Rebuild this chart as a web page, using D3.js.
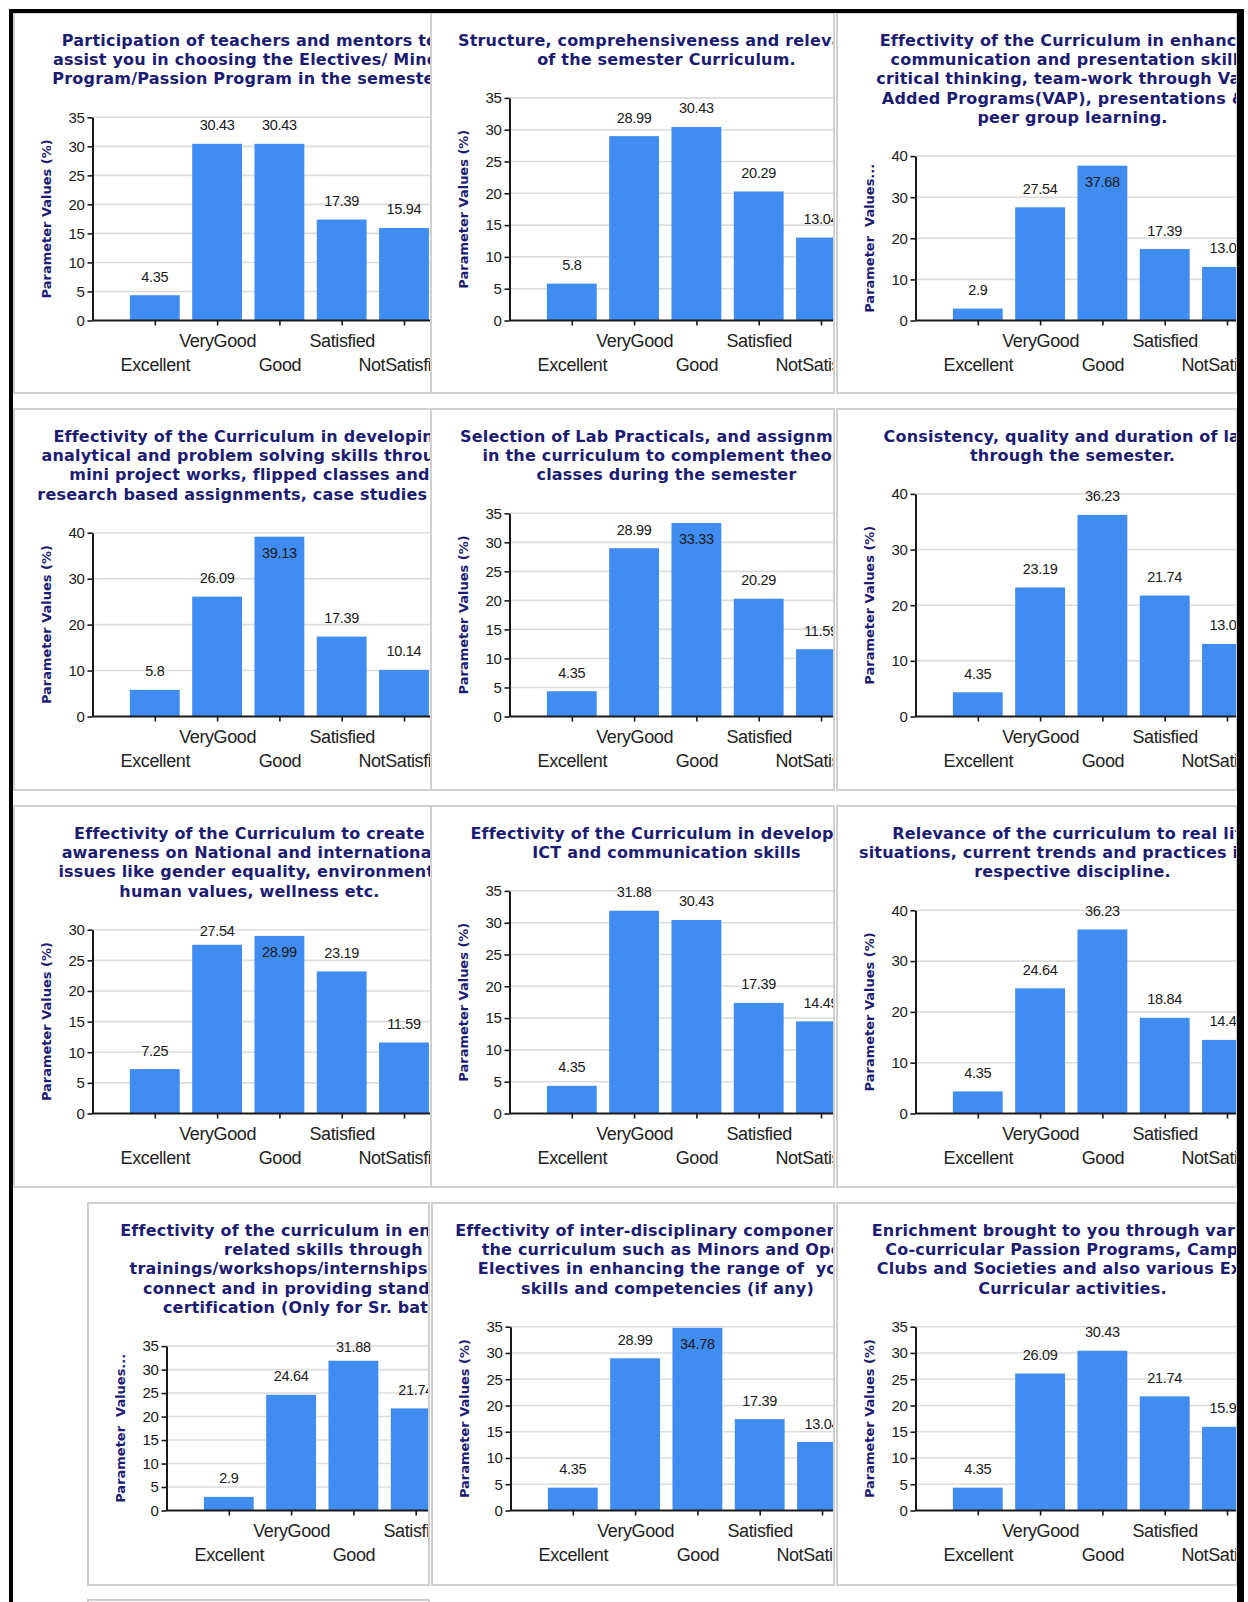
<!DOCTYPE html>
<html><head><meta charset="utf-8">
<script src="https://cdn.jsdelivr.net/npm/d3@7"></script>
<style>
body{margin:0;background:#fff;}
svg{display:block;}
text{white-space:pre;}
</style>
</head><body>
<svg id="c" width="1248" height="1602"></svg>
<script>
// ---------------- data ----------------
const categories = ["Excellent", "VeryGood", "Good", "Satisfied", "NotSatisfied"];

const titles = [
  ["Participation of teachers and mentors to", "assist you in choosing the Electives/ Minor", "Program/Passion Program in the semester."],
  ["Structure, comprehensiveness and relevance", "of the semester Curriculum."],
  ["Effectivity of the Curriculum in enhancing", "communication and presentation skills,", "critical thinking, team-work through Value", "Added Programs(VAP), presentations &   ", "peer group learning."],
  ["Effectivity of the Curriculum in developing", "analytical and problem solving skills through", "mini project works, flipped classes and", "research based assignments, case studies etc"],
  ["Selection of Lab Practicals, and assignments", "in the curriculum to complement theory", "classes during the semester"],
  ["Consistency, quality and duration of labs", "through the semester."],
  ["Effectivity of the Curriculum to create", "awareness on National and international", "issues like gender equality, environment,", "human values, wellness etc."],
  ["Effectivity of the Curriculum in developing", "ICT and communication skills"],
  ["Relevance of the curriculum to real life", "situations, current trends and practices in the", "respective discipline."],
  ["Effectivity of the curriculum in enhancing IT", "related skills through", "trainings/workshops/internships/industry-", "connect and in providing standard skill", "certification (Only for Sr. batches)."],
  ["Effectivity of inter-disciplinary components of", "the curriculum such as Minors and Open", "Electives in enhancing the range of  your", "skills and competencies (if any)"],
  ["Enrichment brought to you through various", "Co-curricular Passion Programs, Campus", "Clubs and Societies and also various Extra", "Curricular activities."]
];

const values = [
  [4.35, 30.43, 30.43, 17.39, 15.94],
  [5.8, 28.99, 30.43, 20.29, 13.04],
  [2.9, 27.54, 37.68, 17.39, 13.04],
  [5.8, 26.09, 39.13, 17.39, 10.14],
  [4.35, 28.99, 33.33, 20.29, 11.59],
  [4.35, 23.19, 36.23, 21.74, 13.04],
  [7.25, 27.54, 28.99, 23.19, 11.59],
  [4.35, 31.88, 30.43, 17.39, 14.49],
  [4.35, 24.64, 36.23, 18.84, 14.49],
  [2.9, 24.64, 31.88, 21.74, 17.39],
  [4.35, 28.99, 34.78, 17.39, 13.04],
  [4.35, 26.09, 30.43, 21.74, 15.94]
];

const yMaxes = [35, 35, 40, 40, 35, 40, 30, 35, 40, 35, 35, 35];
const yTickSteps = [5, 5, 10, 10, 5, 10, 5, 5, 10, 5, 5, 5];
const yTitleFull = "Parameter Values (%)";
const yTitleShort = "Parameter  Values...";

// ---------------- layout ----------------
const svg = d3.select("#c");
const rowTops = [13, 409, 806, 1203];
const rowHeights = [380, 381, 381, 382];
const colsStd = [{x: 14, w: 417}, {x: 431, w: 403}, {x: 837, w: 400}];
const colsLast = [{x: 88, w: 341}, {x: 432, w: 402}, {x: 837, w: 400}];

const AXIS_X = 78.5, PLOT_BOTTOM = 307.5, BASE1 = 32.5, LH = 19.4, STEP = 62.3;
const TITLE_CX = 235.5;

const defs = svg.append("defs");

titles.forEach((tl, i) => {
  const r = Math.floor(i / 3), c = i % 3;
  const col = (r === 3 ? colsLast : colsStd)[c];
  const px = col.x, py = rowTops[r], pw = col.w, ph = rowHeights[r];

  defs.append("clipPath").attr("id", "clip" + i)
    .append("rect").attr("x", 0).attr("y", 0).attr("width", pw - 1).attr("height", ph);

  const panel = svg.append("g").attr("transform", `translate(${px},${py})`);
  const g = panel.append("g").attr("clip-path", `url(#clip${i})`);

  // title
  const t = g.append("text")
    .attr("font-family", "DejaVu Sans").attr("font-weight", "bold")
    .attr("font-size", 16).attr("letter-spacing", 0.2)
    .attr("fill", "#1c1c72").attr("text-anchor", "middle");
  tl.forEach((line, k) => {
    t.append("tspan").attr("x", TITLE_CX).attr("y", BASE1 + k * LH).text(line);
  });

  const plotTop = BASE1 + (tl.length - 1) * LH + 33;
  const x = d3.scalePoint().domain(categories)
    .range([AXIS_X, AXIS_X + 6 * STEP]).padding(1);
  const y = d3.scaleLinear().domain([0, yMaxes[i]]).range([PLOT_BOTTOM, plotTop]);
  const ticks = d3.range(0, yMaxes[i] + 0.001, yTickSteps[i]);
  const bw = STEP * 0.8;

  // only the categories that reach into the visible panel area
  const rows = values[i].map((v, k) => ({cat: categories[k], v}))
    .filter(d => x(d.cat) - bw / 2 < pw - 1);

  // gridlines
  g.append("g").selectAll("line").data(ticks.filter(v => v > 0)).join("line")
    .attr("x1", AXIS_X).attr("x2", pw)
    .attr("y1", d => y(d)).attr("y2", d => y(d))
    .attr("stroke", "#dcdcdc").attr("stroke-width", 1.6);

  // bars
  g.append("g").selectAll("rect").data(rows).join("rect")
    .attr("x", d => x(d.cat) - bw / 2)
    .attr("width", bw)
    .attr("y", d => y(d.v))
    .attr("height", d => PLOT_BOTTOM - y(d.v))
    .attr("fill", "#418cf0");

  // value labels
  g.append("g").selectAll("text").data(rows).join("text")
    .attr("x", d => x(d.cat))
    .attr("y", d => {
      const top = y(d.v);
      if (top - plotTop < 11.5) return top + 21.5;
      return Math.max(top - 13.5, plotTop + 6);
    })
    .attr("text-anchor", "middle")
    .attr("font-family", "Liberation Sans").attr("font-size", 14.5)
    .attr("letter-spacing", -0.3)
    .attr("fill", "#1a1a1a")
    .text(d => d.v);

  // y axis
  const ya = g.append("g").attr("transform", `translate(${AXIS_X},0)`)
    .call(d3.axisLeft(y).tickValues(ticks).tickSize(5).tickSizeOuter(0).tickPadding(3).tickFormat(d3.format("d")));
  ya.select(".domain").attr("stroke", "#1a1a1a").attr("stroke-width", 2);
  ya.selectAll(".tick line").attr("stroke", "#1a1a1a").attr("stroke-width", 1.6);
  ya.selectAll(".tick text").attr("font-family", "Liberation Sans").attr("font-size", 15)
    .attr("letter-spacing", -0.3).attr("fill", "#1a1a1a");

  // x axis (domain line drawn to the panel edge, ticks only for visible categories)
  const visCats = categories.filter(cName => x(cName) - 30 < pw - 1);
  const xa = g.append("g").attr("transform", `translate(0,${PLOT_BOTTOM})`)
    .call(d3.axisBottom(x).tickValues(visCats).tickSize(5).tickSizeOuter(0));
  xa.select(".domain").attr("d", `M${AXIS_X},0H${pw}`)
    .attr("stroke", "#1a1a1a").attr("stroke-width", 2);
  xa.selectAll(".tick line").attr("stroke", "#1a1a1a").attr("stroke-width", 1.6);
  xa.selectAll(".tick text")
    .attr("y", d => (categories.indexOf(d) % 2 === 1 ? 26 : 50)).attr("dy", 0)
    .attr("font-family", "Liberation Sans").attr("font-size", 18)
    .attr("letter-spacing", -0.4).attr("fill", "#222");

  // y axis title
  const plotH = PLOT_BOTTOM - plotTop;
  const yt = plotH >= 170 ? yTitleFull : yTitleShort;
  g.append("text")
    .attr("transform", `translate(32,${(plotTop + PLOT_BOTTOM) / 2}) rotate(-90)`)
    .attr("dy", "0.36em")
    .attr("text-anchor", "middle")
    .attr("font-family", "DejaVu Sans").attr("font-weight", "bold").attr("font-size", 13)
    .attr("fill", "#1c1c72")
    .attr("textLength", plotH >= 170 ? 159 : 149).attr("lengthAdjust", "spacing")
    .text(yt);

  // panel border
  panel.append("rect").attr("x", 0).attr("y", 0).attr("width", pw).attr("height", ph)
    .attr("fill", "none").attr("stroke", "#d0d0d0").attr("stroke-width", 2);
});

// partially visible next panel
svg.append("rect").attr("x", 88).attr("y", 1600).attr("width", 341).attr("height", 60)
  .attr("fill", "none").attr("stroke", "#d0d0d0").attr("stroke-width", 2);

// black frame
svg.append("rect").attr("x", 9).attr("y", 9).attr("width", 4).attr("height", 1602).attr("fill", "#000");
svg.append("rect").attr("x", 9).attr("y", 9).attr("width", 1235).attr("height", 4).attr("fill", "#000");
svg.append("rect").attr("x", 1237).attr("y", 9).attr("width", 7).attr("height", 1602).attr("fill", "#000");
</script>
</body></html>
